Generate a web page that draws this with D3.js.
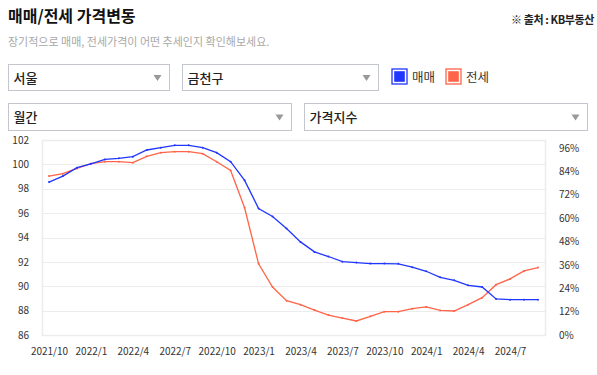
<!doctype html>
<html>
<head>
<meta charset="utf-8">
<title>매매/전세 가격변동</title>
<script src="https://d3js.org/d3.v7.min.js"></script>
<style>
  body { margin: 0; background: #fff; }
  svg text { font-family: "Noto Sans CJK KR", "Noto Sans", sans-serif; }
  .axis text { font-size: 10px; fill: #333; }
</style>
</head>
<body>
<script>
// months on the x axis
var months = ['2021/10','2021/11','2021/12','2022/1','2022/2','2022/3','2022/4','2022/5','2022/6',
              '2022/7','2022/8','2022/9','2022/10','2022/11','2022/12','2023/1','2023/2','2023/3',
              '2023/4','2023/5','2023/6','2023/7','2023/8','2023/9','2023/10','2023/11','2023/12',
              '2024/1','2024/2','2024/3','2024/4','2024/5','2024/6','2024/7','2024/8','2024/9'];

// 매매 price index
var saleValues = [98.55, 99.04, 99.73, 100.05, 100.41, 100.5, 100.63, 101.18, 101.37,
                  101.56, 101.56, 101.37, 100.96, 100.22, 98.69, 96.38, 95.73, 94.74,
                  93.64, 92.82, 92.44, 92.02, 91.94, 91.86, 91.86, 91.84, 91.56,
                  91.23, 90.73, 90.49, 90.08, 89.94, 88.96, 88.9, 88.9, 88.9];

// 전세 price index
var rentValues = [99.04, 99.24, 99.67, 100.06, 100.22, 100.22, 100.14, 100.66, 100.96,
                  101.04, 101.04, 100.88, 100.22, 99.5, 96.44, 91.84, 89.94, 88.82,
                  88.49, 88.05, 87.64, 87.39, 87.15, 87.53, 87.91, 87.91, 88.16,
                  88.3, 88.02, 87.97, 88.49, 89.06, 90.13, 90.6, 91.26, 91.53];

var leftTicks = [86, 88, 90, 92, 94, 96, 98, 100, 102];
var rightTicks = [0, 12, 24, 36, 48, 60, 72, 84, 96];
var xTickLabels = ['2021/10','2022/1','2022/4','2022/7','2022/10','2023/1','2023/4',
                   '2023/7','2023/10','2024/1','2024/4','2024/7'];

var selects = [
  { label: '서울', x: 8.5, y: 64.5, w: 161, h: 26 },
  { label: '금천구', x: 182.5, y: 64.5, w: 196, h: 26 },
  { label: '월간', x: 8.5, y: 103.5, w: 283, h: 27 },
  { label: '가격지수', x: 304.5, y: 103.5, w: 283, h: 27 }
];
var legendItems = [
  { name: '매매', color: '#2036ff' },
  { name: '전세', color: '#ff6448' }
];

var width = 597, height = 375;
var plot = { left: 42, right: 545, top: 140, bottom: 335 };

var svg = d3.select('body').append('svg')
            .attr('width', width)
            .attr('height', height);

// header
svg.append('text')
   .attr('x', 8).attr('y', 22)
   .style('font-size', '16px').style('font-weight', 'bold').style('fill', '#111')
   .text('매매/전세 가격변동');

svg.append('text')
   .attr('x', 594).attr('y', 24)
   .attr('text-anchor', 'end')
   .style('font-size', '11px').style('font-weight', 'bold').style('fill', '#222')
   .style('letter-spacing', '-0.4px')
   .text('※ 출처 : KB부동산');

svg.append('text')
   .attr('x', 8).attr('y', 46)
   .style('font-size', '11px').style('fill', '#a8a8a8')
   .text('장기적으로 매매, 전세가격이 어떤 추세인지 확인해보세요.');

// select boxes
var sel = svg.selectAll('g.select').data(selects).enter()
             .append('g').attr('class', 'select');
sel.append('rect')
   .attr('x', function(d) { return d.x; })
   .attr('y', function(d) { return d.y; })
   .attr('width', function(d) { return d.w; })
   .attr('height', function(d) { return d.h; })
   .attr('fill', '#fff').attr('stroke', '#c4c6cf').attr('stroke-width', 1);
sel.append('text')
   .attr('x', function(d) { return d.x + 5; })
   .attr('y', function(d) { return d.y + d.h / 2 + 5; })
   .style('font-size', '13px').style('font-weight', 500).style('fill', '#222')
   .text(function(d) { return d.label; });
sel.append('path')
   .attr('d', function(d) {
     var cx = d.x + d.w - 12, cy = d.y + d.h / 2 + 0.5;
     return 'M' + (cx - 4) + ',' + (cy - 3) + 'L' + (cx + 4) + ',' + (cy - 3) + 'L' + cx + ',' + (cy + 3) + 'Z';
   })
   .attr('fill', '#999');

// legend
var leg = svg.selectAll('g.legend').data(legendItems).enter()
             .append('g').attr('class', 'legend')
             .attr('transform', function(d, i) { return 'translate(' + (392 + i * 54) + ',69)'; });
leg.append('rect')
   .attr('x', 0).attr('y', 0).attr('width', 15).attr('height', 15)
   .attr('fill', '#fff')
   .attr('stroke', function(d) { return d.color; }).attr('stroke-width', 1.3);
leg.append('rect')
   .attr('x', 2.2).attr('y', 2.2).attr('width', 10.6).attr('height', 10.6)
   .attr('fill', function(d) { return d.color; });
leg.append('text')
   .attr('x', 20).attr('y', 12.5)
   .style('font-size', '12.5px').style('fill', '#333')
   .text(function(d) { return d.name; });

// scales
var xScale = d3.scalePoint()
               .domain(months)
               .range([plot.left, plot.right])
               .padding(0.5);
var yScale = d3.scaleLinear()
               .domain([86, 102])
               .range([plot.bottom, plot.top]);
// right axis runs 0-100%, labelled every 12%
var yRight = d3.scaleLinear()
               .domain([0, 100])
               .range([plot.bottom, plot.top]);

// grid
svg.append('g')
   .selectAll('line')
   .data(leftTicks)
   .enter().append('line')
   .attr('x1', plot.left).attr('x2', plot.right)
   .attr('y1', function(d) { return Math.round(yScale(d)) + 0.5; })
   .attr('y2', function(d) { return Math.round(yScale(d)) + 0.5; })
   .attr('stroke', '#ececec').attr('stroke-width', 1.2);
svg.append('rect')
   .attr('x', plot.left + 0.5).attr('y', plot.top + 0.5)
   .attr('width', plot.right - plot.left).attr('height', plot.bottom - plot.top)
   .attr('fill', 'none').attr('stroke', '#ececec').attr('stroke-width', 1.5);

// axes
svg.append('g').attr('class', 'axis')
   .attr('transform', 'translate(' + plot.left + ',0)')
   .call(d3.axisLeft(yScale).tickValues(leftTicks).tickSize(0).tickPadding(13));
svg.append('g').attr('class', 'axis')
   .attr('transform', 'translate(' + plot.right + ',0)')
   .call(d3.axisRight(yRight).tickValues(rightTicks).tickSize(0).tickPadding(14)
         .tickFormat(function(d) { return d + '%'; }));
svg.append('g').attr('class', 'axis')
   .attr('transform', 'translate(0,' + plot.bottom + ')')
   .call(d3.axisBottom(xScale).tickValues(xTickLabels).tickSize(0).tickPadding(13));
svg.selectAll('.axis .domain').remove();
svg.selectAll('.axis text').attr('font-family', null);

// lines
var series = [
  { values: rentValues, color: legendItems[1].color },
  { values: saleValues, color: legendItems[0].color }
];
var line = d3.line()
             .x(function(d, i) { return xScale(months[i]); })
             .y(function(d) { return yScale(d); });

series.forEach(function(s) {
  svg.append('path')
     .datum(s.values)
     .attr('d', line)
     .attr('fill', 'none')
     .attr('stroke', s.color)
     .attr('stroke-width', 1.3);
  svg.append('g')
     .selectAll('circle')
     .data(s.values)
     .enter().append('circle')
     .attr('cx', function(d, i) { return xScale(months[i]); })
     .attr('cy', function(d) { return yScale(d); })
     .attr('r', 1)
     .attr('fill', s.color);
});
</script>
</body>
</html>
